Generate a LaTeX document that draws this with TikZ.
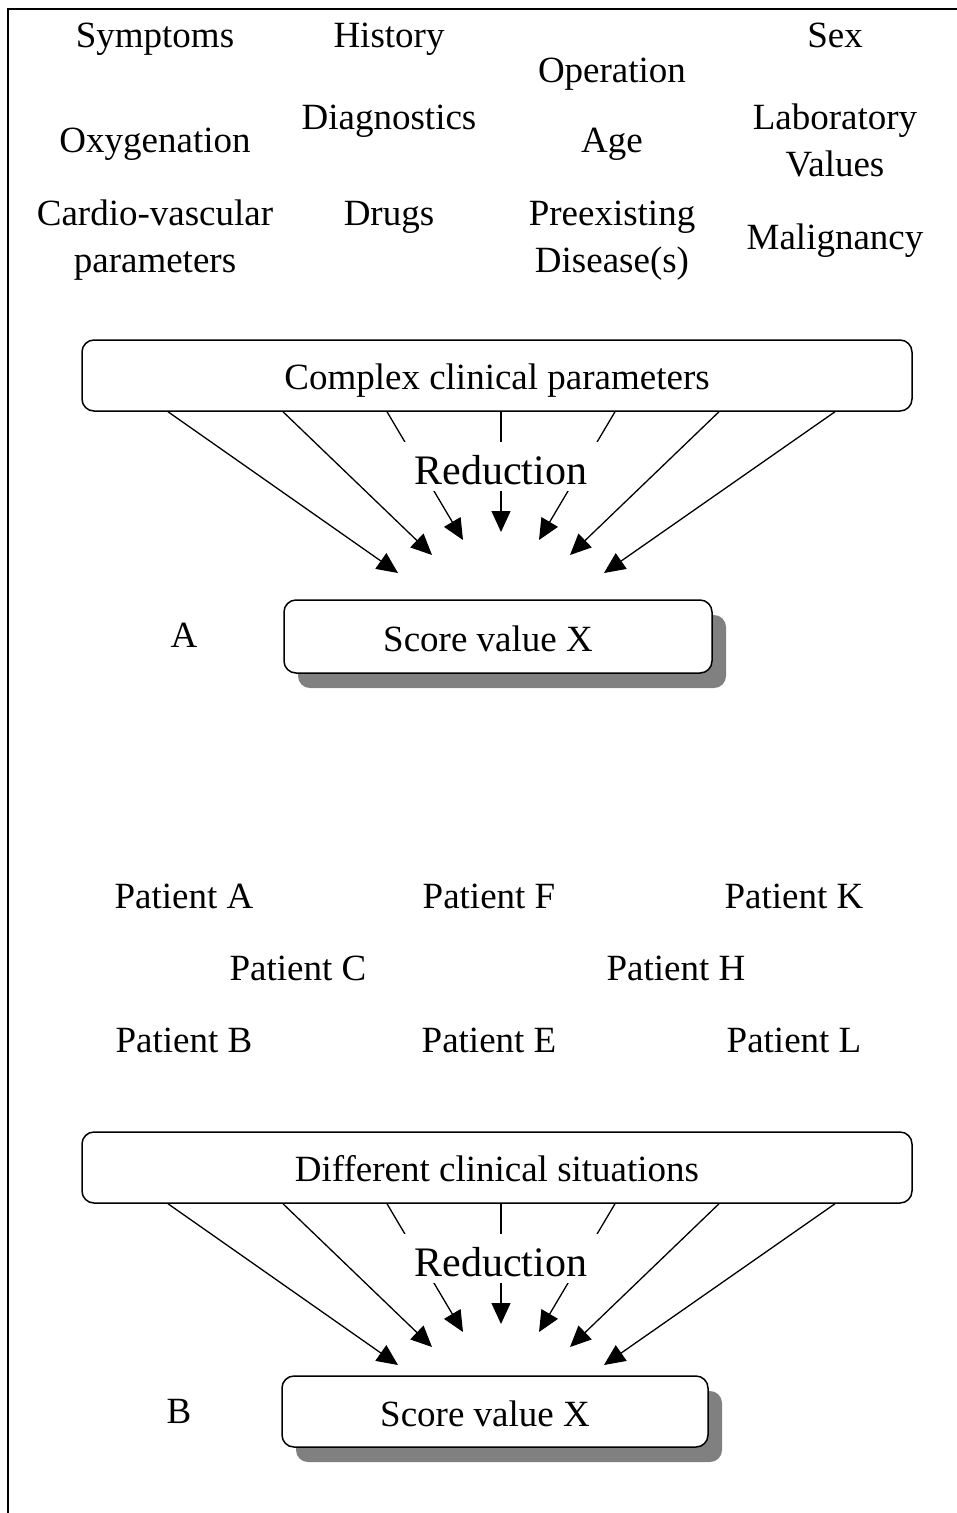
\documentclass[tikz,border=0pt]{standalone}
\usepackage{fontspec}
\setmainfont{Liberation Serif}
\usetikzlibrary{arrows.meta,shadows,calc}
\begin{document}
\begin{tikzpicture}[x=1pt,y=-1pt,
  lbl/.style={font=\fontsize{37}{47}\selectfont, inner sep=0pt, anchor=base, align=center},
  bigbox/.style={draw, line width=1.5pt, rounded corners=12pt, minimum width=830pt,
    minimum height=71pt, inner sep=0pt, text height=28pt, text depth=0pt,
    font=\fontsize{37}{47}\selectfont},
  scorebox/.style={draw, fill=white, line width=1.5pt, rounded corners=12pt, inner sep=0pt,
    drop shadow={shadow xshift=14pt, shadow yshift=-15pt, fill=black!50, opacity=1}},
  redarrow/.style={line width=1.3pt, -{Triangle[length=21pt,width=19pt]}},
  reduction/.style={fill=white, font=\fontsize{42}{50}\selectfont, anchor=base,
    text height=38pt, text depth=3pt, inner ysep=4pt, inner xsep=14pt},
]
\useasboundingbox (0,0) rectangle (957,1513);
% open frame: left and top edges
\draw[line width=2pt] (8,1513) -- (8,9) -- (957,9);

% ---------- Panel A: clinical parameters ----------
% (multi-line labels are placed by the baseline of their last line)
\node[lbl] (symptoms) at (155,47) {Symptoms};
\node[lbl] (history) at (389,47) {History};
\node[lbl] (sex) at (835,47) {Sex};
\node[lbl] (operation) at (612,82) {Operation};
\node[lbl] (oxygen) at (155,152) {Oxygenation};
\node[lbl] (diagnostics) at (389,129) {Diagnostics};
\node[lbl] (age) at (612,152) {Age};
\node[lbl] (lab) at (835,176) {Laboratory\\Values};
\node[lbl] (cardio) at (155,272) {Cardio-vascular\\parameters};
\node[lbl] (drugs) at (389,225) {Drugs};
\node[lbl] (preex) at (612,272) {Preexisting\\Disease(s)};
\node[lbl] (malign) at (835,249) {Malignancy};

\node[bigbox] (cpA) at (497,375.5) {Complex clinical parameters};

\foreach \i/\sx/\tx/\ty in {1/-329/398/573, 2/-214/432/555, 3/-110/463/540, 4/4/501/532,
                            5/118/539/540, 6/222/570/555, 7/338/604/573} {
  \coordinate (sA\i) at ($(cpA.south)+(\sx,0)$);
  \coordinate (tA\i) at (\tx,\ty);
  \draw[redarrow] (sA\i) -- (tA\i);
}
\node[reduction] (redA) at (501,484) {Reduction};

\node[scorebox, minimum width=428pt, minimum height=73pt] (scoreA) at (498,636.5) {};
\node[lbl] (scoreAtxt) at (488,651) {Score value X};
\node[lbl] (labelA) at (184,647) {A};

% ---------- Panel B: patients ----------
\node[lbl] (patA) at (184,908) {Patient A};
\node[lbl] (patF) at (489,908) {Patient F};
\node[lbl] (patK) at (794,908) {Patient K};
\node[lbl] (patC) at (298,980) {Patient C};
\node[lbl] (patH) at (676,980) {Patient H};
\node[lbl] (patB) at (184,1052) {Patient B};
\node[lbl] (patE) at (489,1052) {Patient E};
\node[lbl] (patL) at (794,1052) {Patient L};

\node[bigbox] (cpB) at (497,1167.5) {Different clinical situations};

\foreach \i/\sx/\tx/\ty in {1/-329/398/1365, 2/-214/432/1347, 3/-110/463/1332, 4/4/501/1324,
                            5/118/539/1332, 6/222/570/1347, 7/338/604/1365} {
  \coordinate (sB\i) at ($(cpB.south)+(\sx,0)$);
  \coordinate (tB\i) at (\tx,\ty);
  \draw[redarrow] (sB\i) -- (tB\i);
}
\node[reduction] (redB) at (501,1276) {Reduction};

\node[scorebox, minimum width=426pt, minimum height=71pt] (scoreB) at (495,1411.5) {};
\node[lbl] (scoreBtxt) at (485,1426) {Score value X};
\node[lbl] (labelB) at (179,1423) {B};
\end{tikzpicture}
\end{document}
